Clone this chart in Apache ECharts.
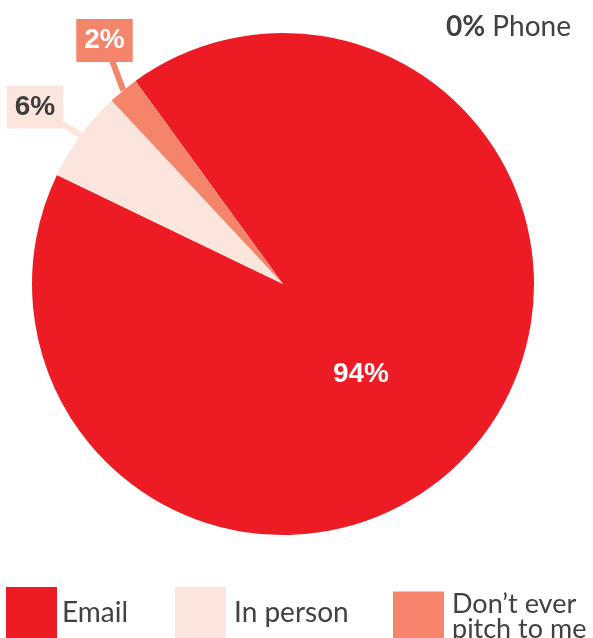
<!DOCTYPE html>
<html>
<head>
<meta charset="utf-8">
<title>How do you prefer to be pitched?</title>
<script src="https://cdn.jsdelivr.net/npm/echarts@6/dist/echarts.min.js"></script>
<style>
  html, body { margin: 0; padding: 0; background: #ffffff; }
  #chart { width: 593px; height: 638px; }
</style>
</head>
<body>
<div id="chart"></div>
<script>
// Preferred pitch channel, share of respondents (%)
const categories = ['Email', 'In person', 'Don\u2019t ever pitch to me', 'Phone'];
const shares = [94, 6, 2, 0];
const legendLabels = ['Email', 'In person', 'Don\u2019t ever\npitch to me'];

const sliceColors = ['#ED1C24', '#FCE5DC', '#F4856A', '#BDBDBD'];
const valueTextColors = ['#ffffff', '#3d3d3d', '#ffffff', '#3d3d3d'];
const darkText = '#414042';
const uiFont = 'Lato, "Open Sans", sans-serif';
const labelFont = '"Liberation Sans", Arial, sans-serif';

// Where each value label's centre sits (Email, In person, Don't ever)
const labelSpots = [[361, 374], [35, 107], [104.5, 40.5]];
const legendLeft = [6, 175, 393];
const legendTextGap = [0, 3, 3];
const legendFontSize = [28, 28, 27];

const chart = echarts.init(document.getElementById('chart'), null, { renderer: 'canvas' });

const pieData = categories.map((name, i) => {
  const boxed = i === 1 || i === 2;
  return {
    name: name,
    value: shares[i],
    itemStyle: { color: sliceColors[i] },
    label: {
      show: i < 3,
      position: i === 0 ? 'inside' : 'outside',
      color: valueTextColors[i],
      backgroundColor: boxed ? sliceColors[i] : 'transparent',
      padding: boxed ? [8, 8, 7, 8] : 0
    },
    labelLine: {
      show: boxed,
      lineStyle: { color: sliceColors[i], width: 6, cap: 'butt' }
    }
  };
});

const option = {
  backgroundColor: '#ffffff',
  animation: false,
  title: {
    text: '{b|' + shares[3] + '%} ' + categories[3],
    right: 22,
    top: 13,
    padding: 0,
    textStyle: {
      fontFamily: uiFont,
      fontSize: 28,
      fontWeight: 'normal',
      color: darkText,
      rich: {
        b: { fontFamily: uiFont, fontSize: 28, fontWeight: 'bold', color: darkText }
      }
    }
  },
  legend: legendLabels.map((lbl, i) => ({
    data: [categories[i]],
    left: legendLeft[i],
    top: 587,
    padding: 0,
    icon: 'rect',
    itemWidth: 51,
    itemHeight: 51,
    selectedMode: false,
    formatter: () => lbl,
    textStyle: {
      fontFamily: uiFont,
      fontSize: legendFontSize[i],
      lineHeight: 25,
      color: darkText,
      padding: [10, 0, 0, legendTextGap[i]]
    }
  })),
  series: [{
    type: 'pie',
    center: [283, 284],
    radius: [0, 251],
    startAngle: 126,
    clockwise: true,
    avoidLabelOverlap: false,
    minShowLabelAngle: 0,
    emphasis: { disabled: true },
    itemStyle: { borderWidth: 0 },
    label: {
      formatter: '{c}%',
      fontFamily: labelFont,
      fontSize: 28,
      fontWeight: 'bold',
      lineHeight: 28
    },
    labelLine: { length: 10, length2: 10, smooth: false },
    labelLayout: (params) => {
      const spot = labelSpots[params.dataIndex];
      if (!spot) return {};
      const out = { x: spot[0], y: spot[1], align: 'center', verticalAlign: 'middle' };
      // straight pointer from the slice rim to the label box
      if (params.labelLinePoints && params.labelLinePoints.length) {
        out.labelLinePoints = [params.labelLinePoints[0], spot];
      }
      return out;
    },
    data: pieData
  }]
};

chart.setOption(option);
</script>
</body>
</html>
